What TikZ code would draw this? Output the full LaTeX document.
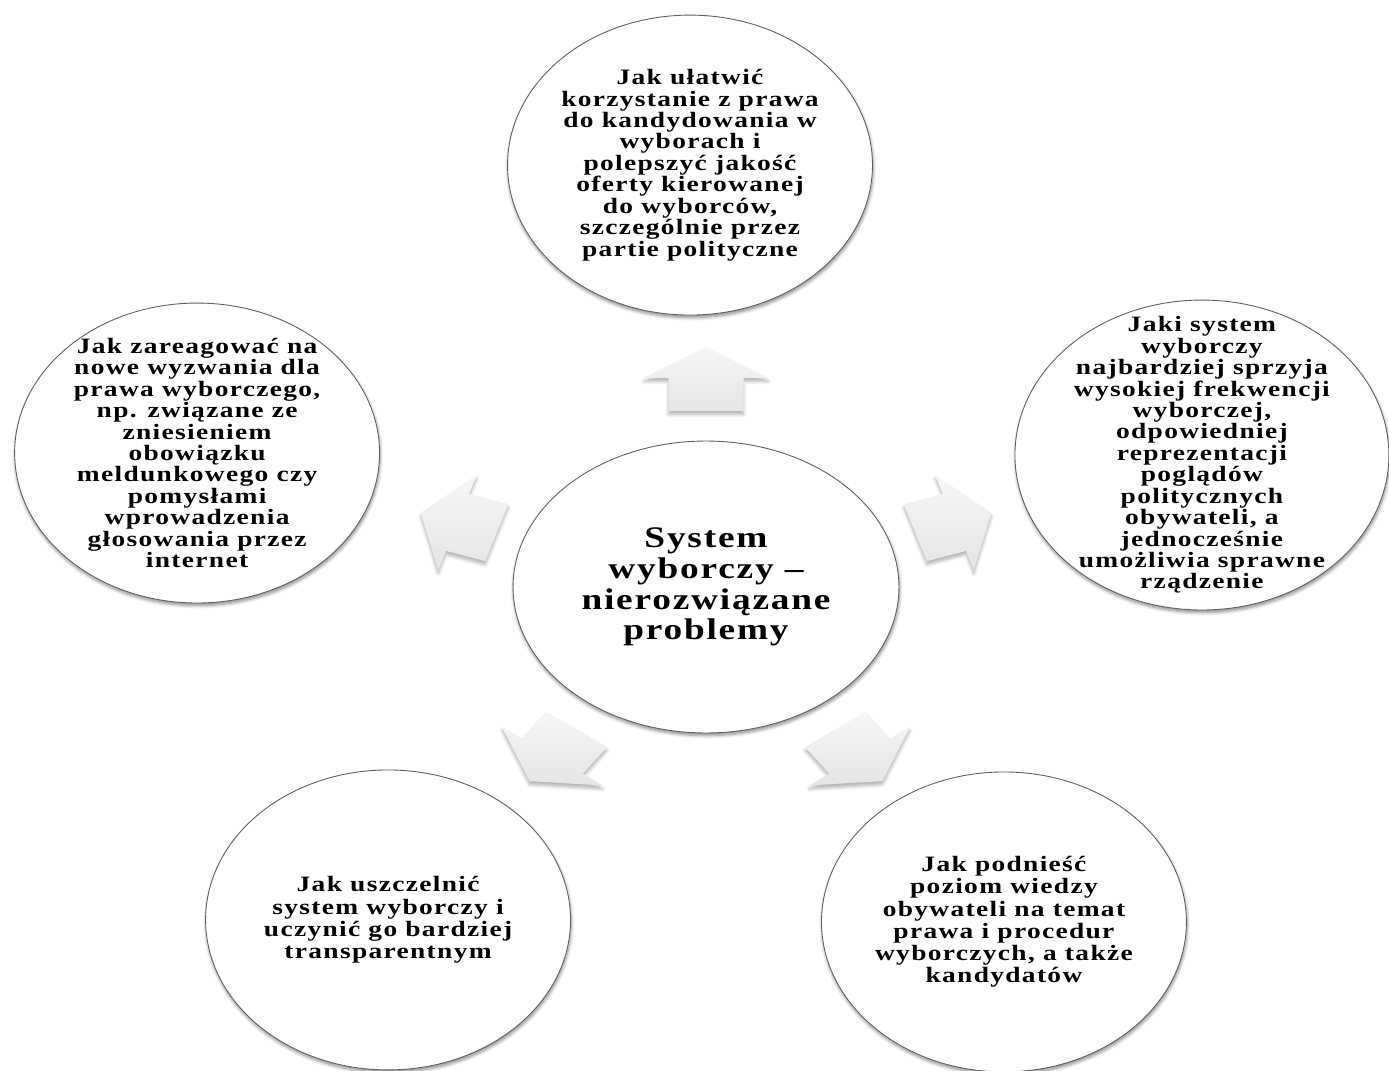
\documentclass[tikz,border=0pt]{standalone}
\usepackage{fontspec}
\setmainfont{Liberation Serif}[FakeStretch=1.25, LetterSpace=6]
\usetikzlibrary{positioning, shapes.geometric, shadows.blur}

\begin{document}
\begin{tikzpicture}[
			x=0.02cm, y=-0.02cm,
			% elipsa z pytaniem
			bubble/.style={ellipse, draw=gray!75!black, line width=0.5pt, fill=white, on grid, inner sep=-1.5cm, align=center,
				minimum width=7.3cm, minimum height=6cm, font=\bfseries\fontsize{12.5}{12.2}\selectfont,
				blur shadow={shadow xshift=0.4pt, shadow yshift=-1.5pt, shadow opacity=45, shadow blur steps=6}},
			% jasna strzalka od srodka
			blockarrow/.style={top color=gray!7, bottom color=gray!20, draw=none,
				blur shadow={shadow xshift=0pt, shadow yshift=-2pt, shadow opacity=30, shadow blur steps=5}},
			bigarrow/.pic={\path[blockarrow] (176,-30) -- (209,-30) -- (209,-50) -- (240,0) -- (209,50) -- (209,30) -- (176,30) -- cycle;}
		]
		\useasboundingbox (0,0) rectangle (1389,1071);

		%Arrows
		\pic[xscale=1.25, rotate=90]  at (706,587) {bigarrow};
		\pic[xscale=1.25, rotate=162] at (706,587) {bigarrow};
		\pic[xscale=1.25, rotate=18]  at (706,587) {bigarrow};
		\pic[xscale=1.25, rotate=234] at (706,587) {bigarrow};
		\pic[xscale=1.25, rotate=306] at (706,587) {bigarrow};

		%Nodes
		\node[bubble, minimum width=7.72cm, minimum height=5.84cm, font=\bfseries\fontsize{17}{17.5}\selectfont]
			(maintopic)                                              at (706,587)  {System\\wyborczy –\\nierozwiązane\\problemy};
		\node[bubble]   (kandyd)    [above left=8.44cm and 0.32cm of maintopic]    {Jak ułatwić\\korzystanie z prawa\\do kandydowania w\\wyborach i\\polepszyć jakość\\oferty kierowanej\\do wyborców,\\szczególnie przez\\partie polityczne};
		\node[bubble]   (wyzwania)  [above left=2.68cm and 10.18cm of maintopic]   {Jak zareagować na\\nowe wyzwania dla\\prawa wyborczego,\\np. związane ze\\zniesieniem\\obowiązku\\meldunkowego czy\\pomysłami\\wprowadzenia\\głosowania przez\\internet};
		\node[bubble, minimum width=7.48cm, minimum height=6.2cm]
			(frekw)     [above right=2.64cm and 9.92cm of maintopic]   {Jaki system\\wyborczy\\najbardziej sprzyja\\wysokiej frekwencji\\wyborczej,\\odpowiedniej\\reprezentacji\\poglądów\\politycznych\\obywateli, a\\jednocześnie\\umożliwia sprawne\\rządzenie};
		\node[bubble, font=\bfseries\fontsize{12.5}{12.6}\selectfont]
			(uszczel)   [below left=6.66cm and 6.36cm of maintopic]    {Jak uszczelnić\\system wyborczy i\\uczynić go bardziej\\transparentnym};
		\node[bubble, font=\bfseries\fontsize{12.5}{12.6}\selectfont]
			(wiedza)    [below right=6.7cm and 5.96cm of maintopic]    {Jak podnieść\\poziom wiedzy\\obywateli na temat\\prawa i procedur\\wyborczych, a także\\kandydatów};
	\end{tikzpicture}
\end{document}
